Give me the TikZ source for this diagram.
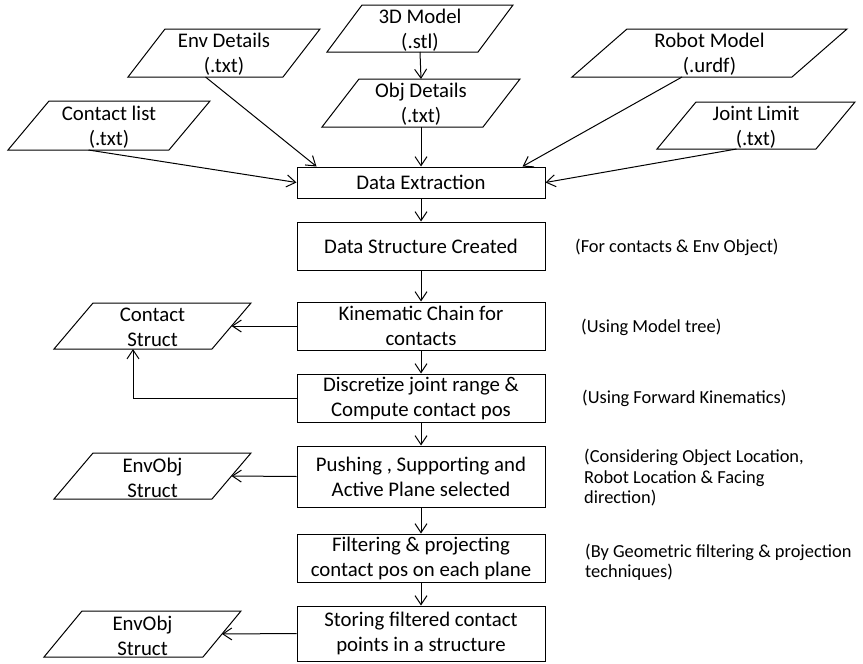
\documentclass[tikz,border=0pt]{standalone}
\usepackage{fontspec}
\setmainfont{Carlito}
\usetikzlibrary{arrows.meta}
\newcommand\mypara[7]{%
  \draw[line] (#2,#5) -- ({#2+#6},#4) -- (#3,#4) -- ({#3-#6},#5) -- cycle;
  \node[ptext] (#1) at ({(#2+#3)/2},{(#4+#5)/2+1.5}) {#7};
  \coordinate (#1-s) at ({(#2+#3-#6)/2},#5);
  \coordinate (#1-b) at ({(#2+#3)/2},#5);
  \coordinate (#1-t) at ({(#2+#3)/2},#4);
  \coordinate (#1-e) at ({#3-#6/2},{(#4+#5)/2});
}
\begin{document}
\begin{tikzpicture}[x=1pt,y=-1pt,
  line/.style={line width=1pt},
  box/.style={draw,line width=1pt,minimum width=248pt,inner sep=0pt,align=center,
    font=\fontsize{20.8}{25}\selectfont},
  ptext/.style={align=center,inner sep=0pt,font=\fontsize{20.8}{25}\selectfont},
  note/.style={align=left,inner sep=0pt,anchor=west,font=\fontsize{18.4}{20.5}\selectfont},
  arr/.style={line width=1pt,-{Straight Barb[length=9pt,width=12pt,line width=1pt]}}
]
\useasboundingbox (0,0) rectangle (863,664);

% main process boxes
\node[box,minimum height=31pt] (de) at (421,182.5) {Data Extraction};
\node[box,minimum height=48pt] (dsc) at (421,246) {Data Structure Created};
\node[box,minimum height=48pt] (kc) at (421,326) {Kinematic Chain for\\contacts};
\node[box,minimum height=48pt] (dj) at (421,398) {Discretize joint range \&\\Compute contact pos};
\node[box,minimum height=61pt] (ps) at (421,476.5) {Pushing , Supporting and\\Active Plane selected};
\node[box,minimum height=48pt] (fp) at (421,558) {Filtering \& projecting\\contact pos on each plane};
\node[box,minimum height=55pt] (sf) at (421,633.5) {Storing filtered contact\\points in a structure};

% data parallelograms
\mypara{m3d}{327}{513}{5}{52}{35}{3D Model\\(.stl)}
\mypara{obj}{322}{520}{79}{127}{37}{Obj Details\\(.txt)}
\mypara{env}{128}{320}{29}{77}{37}{Env Details\\(.txt)}
\mypara{cl}{8}{210}{101}{150}{41}{Contact list\\(.txt)}
\mypara{rob}{572}{847}{29}{77}{55}{Robot Model\\(.urdf)}
\mypara{jl}{657}{855}{102}{149}{39}{Joint Limit\\(.txt)}
\mypara{cs}{54}{251}{303}{349}{39}{Contact\\Struct}
\mypara{eo}{54}{251}{453}{499}{39}{EnvObj\\Struct}
\mypara{eot}{44}{241}{611}{657}{38}{EnvObj\\Struct}

% annotations
\node[note] (n1) at (575,247) {(For contacts \& Env Object)};
\node[note] (n2) at (581,327) {(Using Model tree)};
\node[note] (n3) at (582,398) {(Using Forward Kinematics)};
\node[note] (n4) at (584,478) {(Considering Object Location,\\Robot Location \& Facing\\direction)};
\node[note] (n5) at (585,562.5) {(By Geometric filtering \& projection\\techniques)};

% connectors
\draw[arr] (m3d-b) -- (obj-t);
\draw[arr] (obj-b) -- (de.north);
\draw[arr] (env-s) -- ([xshift=20pt]de.north west);
\draw[arr] (rob-s) -- ([xshift=-23pt]de.north east);
\draw[arr] (cl-s) -- (de.west);
\draw[arr] (jl-s) -- (de.east);
\draw[arr] (de) -- (dsc);
\draw[arr] (dsc) -- (kc);
\draw[arr] (kc) -- (dj);
\draw[arr] (dj) -- (ps);
\draw[arr] (ps) -- (fp);
\draw[arr] (fp) -- (sf);
\draw[arr] (kc.west) -- (cs-e);
\draw[arr] (dj.west) -| (cs-s);
\draw[arr] (ps.west) -- (eo-e);
\draw[arr] (sf.west) -- (eot-e);
\end{tikzpicture}
\end{document}
